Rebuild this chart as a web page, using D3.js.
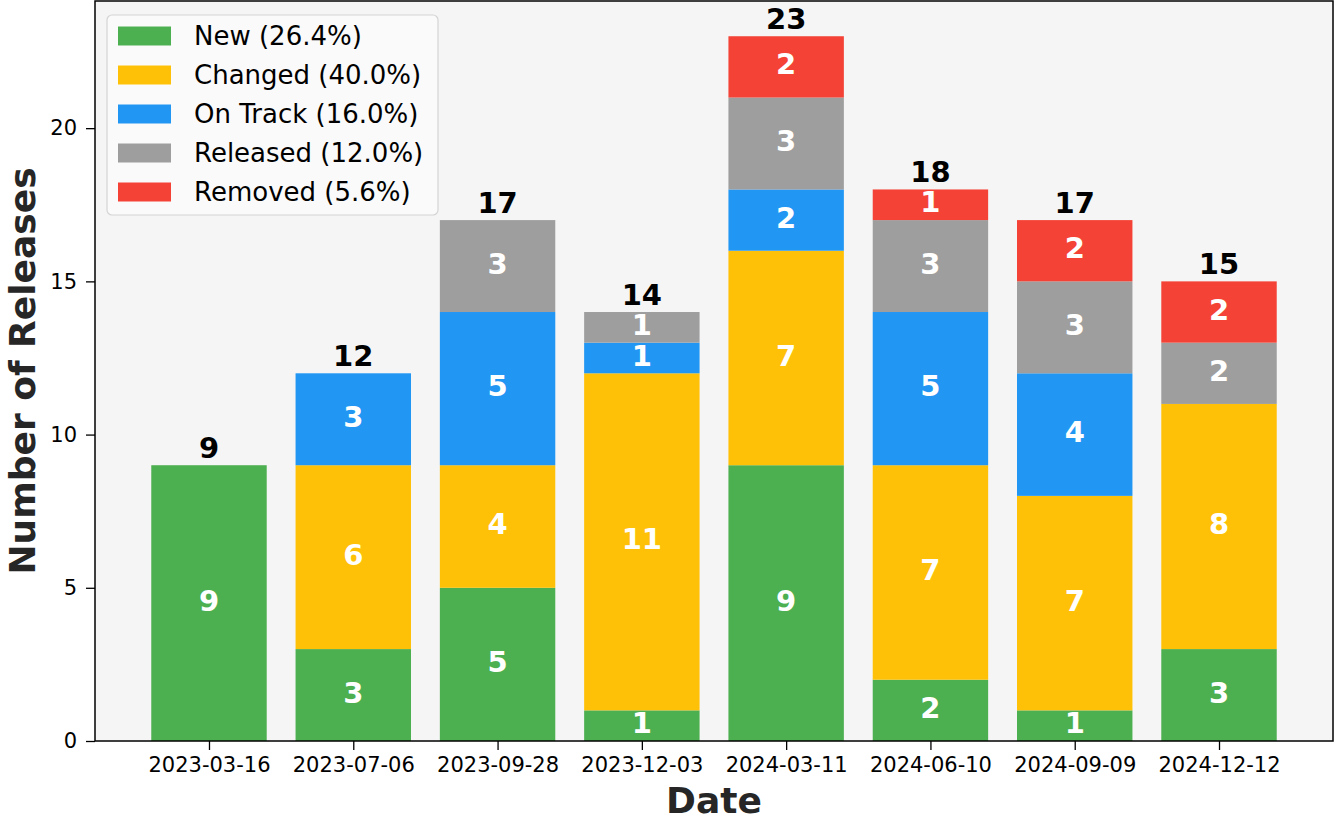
<!DOCTYPE html>
<html>
<head>
<meta charset="utf-8">
<script src="https://cdn.jsdelivr.net/npm/d3@7"></script>
<style>
  body { margin: 0; background: #fff; }
  svg { display: block; font-family: "DejaVu Sans", sans-serif; }
</style>
</head>
<body>
<script>
// chart data
const dates = ["2023-03-16", "2023-07-06", "2023-09-28", "2023-12-03",
               "2024-03-11", "2024-06-10", "2024-09-09", "2024-12-12"];
const seriesNames = ["New", "Changed", "On Track", "Released", "Removed"];
const newCounts      = [9, 3, 5, 1, 9, 2, 1, 3];
const changedCounts  = [0, 6, 4, 11, 7, 7, 7, 8];
const onTrackCounts  = [0, 3, 5, 1, 2, 5, 4, 0];
const releasedCounts = [0, 0, 3, 1, 3, 3, 3, 2];
const removedCounts  = [0, 0, 0, 0, 2, 1, 2, 2];
const yTicks = [0, 5, 10, 15, 20];

const colors = ["#4CAF50", "#FFC107", "#2196F3", "#9E9E9E", "#F44336"];

const width = 1335, height = 820;
const margin = {top: 1, right: 2, bottom: 79, left: 95};

const svg = d3.select("body").append("svg")
    .attr("width", width)
    .attr("height", height);

const counts = [newCounts, changedCounts, onTrackCounts, releasedCounts, removedCounts];
const rows = dates.map((d, i) => {
  const r = {date: d};
  seriesNames.forEach((s, k) => r[s] = counts[k][i]);
  return r;
});
const totals = dates.map((d, i) => d3.sum(counts, c => c[i]));
const grand = d3.sum(totals);

const stack = d3.stack().keys(seriesNames)(rows);

const x0 = margin.left, x1 = width - margin.right;
const y0 = height - margin.bottom, y1 = margin.top;

// bar positions by index, width 0.8, 5% side margins
const n = dates.length;
const xLin = d3.scaleLinear()
    .domain([-0.4 - 0.05 * (n - 0.2), n - 0.6 + 0.05 * (n - 0.2)])
    .range([x0, x1]);
const barW = xLin(0.8) - xLin(0);

const y = d3.scaleLinear()
    .domain([0, d3.max(totals) * 1.05])
    .range([y0, y1]);

// plot background
svg.append("rect")
    .attr("x", x0).attr("y", y1)
    .attr("width", x1 - x0).attr("height", y0 - y1)
    .attr("fill", "#f5f5f5");

// bars
const layer = svg.append("g")
  .selectAll("g")
  .data(stack)
  .join("g")
    .attr("fill", (d, k) => colors[k]);

layer.selectAll("rect")
  .data(d => d)
  .join("rect")
    .attr("x", (d, i) => xLin(i) - barW / 2)
    .attr("width", barW)
    .attr("y", d => y(d[1]))
    .attr("height", d => y(d[0]) - y(d[1]));

// segment labels
layer.selectAll("text")
  .data(d => d.filter(s => s[1] - s[0] > 0).map(s => ({s, i: d.indexOf(s)})))
  .join("text")
    .attr("x", d => xLin(d.i))
    .attr("y", d => y((d.s[0] + d.s[1]) / 2))
    .attr("dy", "0.26em")
    .attr("text-anchor", "middle")
    .attr("fill", "#fff")
    .attr("font-weight", "bold")
    .attr("font-size", 29)
    .text(d => d.s[1] - d.s[0]);

// totals
svg.append("g")
  .selectAll("text")
  .data(totals)
  .join("text")
    .attr("x", (d, i) => xLin(i))
    .attr("y", d => y(d) - 7)
    .attr("text-anchor", "middle")
    .attr("font-weight", "bold")
    .attr("font-size", 29)
    .attr("fill", "#000")
    .text(d => d);

// axes
const xAxis = d3.axisBottom(xLin)
    .tickValues(d3.range(n))
    .tickFormat(i => dates[i])
    .tickSizeOuter(0)
    .tickSize(9)
    .tickPadding(7);

const gx = svg.append("g")
    .attr("transform", `translate(0,${y0})`)
    .call(xAxis);
gx.select(".domain").remove();
gx.selectAll("text").attr("font-size", 21).attr("font-family", "DejaVu Sans").attr("fill", "#000");
gx.selectAll("line").attr("stroke", "#000").attr("stroke-width", 1.3);

const gy = svg.append("g")
    .attr("transform", `translate(${x0},0)`)
    .call(d3.axisLeft(y).tickValues(yTicks).tickSize(9).tickPadding(9).tickSizeOuter(0));
gy.select(".domain").remove();
gy.selectAll("text").attr("font-size", 21).attr("font-family", "DejaVu Sans").attr("fill", "#000");
gy.selectAll("line").attr("stroke", "#000").attr("stroke-width", 1.3);

// frame
svg.append("rect")
    .attr("x", x0).attr("y", y1)
    .attr("width", x1 - x0).attr("height", y0 - y1)
    .attr("fill", "none")
    .attr("stroke", "#000")
    .attr("stroke-width", 1.5);

// axis titles
svg.append("text")
    .attr("x", (x0 + x1) / 2)
    .attr("y", 813)
    .attr("text-anchor", "middle")
    .attr("font-weight", "bold")
    .attr("font-size", 36)
    .attr("fill", "#262626")
    .text("Date");

svg.append("text")
    .attr("transform", `translate(35,${(y0 + y1) / 2}) rotate(-90)`)
    .attr("text-anchor", "middle")
    .attr("font-weight", "bold")
    .attr("font-size", 36)
    .attr("fill", "#262626")
    .text("Number of Releases");

// legend
const legend = svg.append("g").attr("transform", "translate(107,15)");
legend.append("rect")
    .attr("width", 331).attr("height", 200)
    .attr("rx", 5)
    .attr("fill", "#fafafa")
    .attr("stroke", "#d4d4d4")
    .attr("stroke-width", 1.2);

const item = legend.selectAll("g.item")
  .data(seriesNames)
  .join("g")
    .attr("class", "item")
    .attr("transform", (d, k) => `translate(0,${21 + k * 39})`);

item.append("rect")
    .attr("x", 11).attr("y", -9.5)
    .attr("width", 53).attr("height", 19)
    .attr("fill", (d, k) => colors[k]);

item.append("text")
    .attr("x", 87)
    .attr("dy", "0.36em")
    .attr("font-size", 26)
    .attr("fill", "#000")
    .text((d, k) => `${d} (${(d3.sum(counts[k]) / grand * 100).toFixed(1)}%)`);
</script>
</body>
</html>
